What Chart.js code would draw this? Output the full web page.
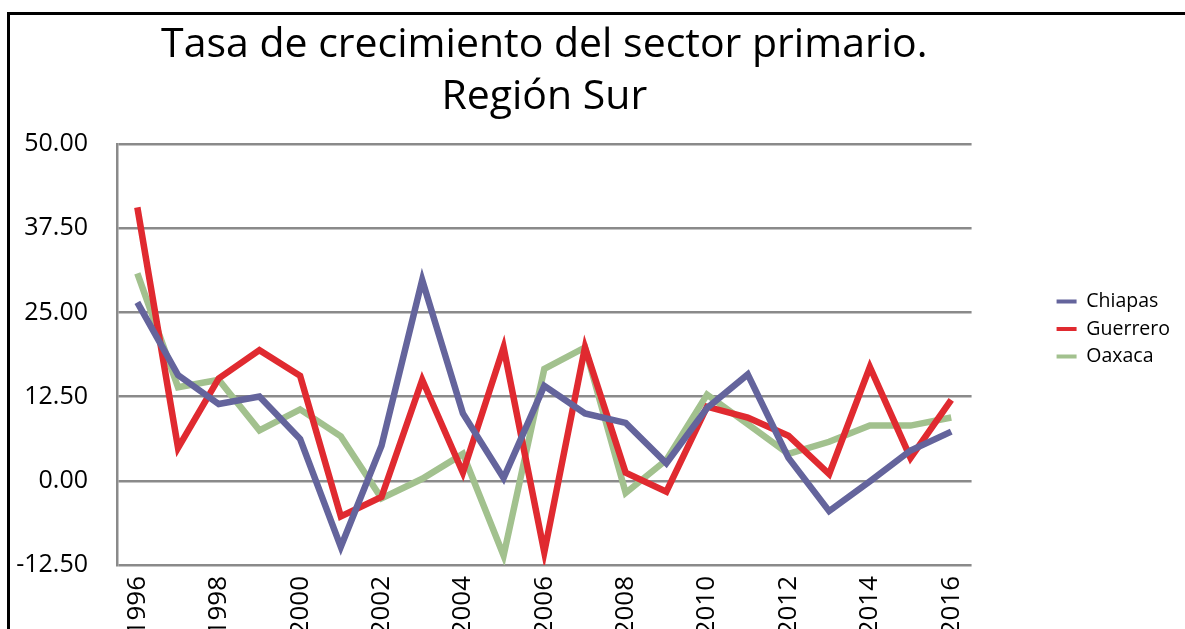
<!DOCTYPE html>
<html lang="es">
<head>
<meta charset="utf-8">
<title>Tasa de crecimiento del sector primario. Región Sur</title>
<script src="https://cdn.jsdelivr.net/npm/chart.js@4/dist/chart.umd.min.js"></script>
<style>
  html, body { margin: 0; padding: 0; background: #fff; overflow: hidden; }
  #wrap { position: absolute; left: 0; top: 0; width: 1185px; height: 658px; }
  .frame { position: absolute; background: #000; z-index: 2; }
  #frameTop { left: 7px; top: 12px; width: 1200px; height: 3px; }
  #frameLeft { left: 7px; top: 12px; width: 3px; height: 700px; }
</style>
</head>
<body>
<div id="wrap"><canvas id="chart"></canvas></div>
<div class="frame" id="frameTop"></div>
<div class="frame" id="frameLeft"></div>
<script>
// Años de la serie
const years = ['1996','1997','1998','1999','2000','2001','2002','2003','2004','2005',
               '2006','2007','2008','2009','2010','2011','2012','2013','2014','2015','2016'];

// Tasa de crecimiento anual (%) por estado
const chiapas  = [26.5, 15.7, 11.4, 12.5, 6.2, -9.8, 5.2, 29.8, 10.0, 0.4,
                  14.1, 10.0, 8.6, 2.6, 10.8, 15.8, 3.4, -4.5, -0.1, 4.5, 7.3];
const guerrero = [40.6, 4.9, 15.2, 19.4, 15.6, -5.3, -2.4, 15.0, 1.2, 19.8,
                  -10.6, 19.8, 1.2, -1.6, 11.0, 9.4, 6.7, 1.0, 16.9, 3.4, 12.0];
const oaxaca   = [30.8, 13.9, 15.0, 7.5, 10.6, 6.6, -2.6, 0.3, 4.0, -11.1,
                  16.6, 19.8, -1.8, 3.1, 12.8, 8.4, 4.0, 5.8, 8.2, 8.2, 9.4];

const seriesNames = ['Chiapas', 'Guerrero', 'Oaxaca'];
const seriesColors = ['#64649c', '#e02a30', '#a2c18e'];

const yMin = -12.5, yMax = 50, yStep = 12.5;
const titleLines = ['Tasa de crecimiento del sector primario.', 'Región Sur'];

Chart.defaults.font.family = "'Open Sans', 'Liberation Sans', sans-serif";
Chart.defaults.color = '#000';

const gridGray = '#8a8a8a';

function makeSet(label, data, color) {
  return {
    label, data,
    borderColor: color,
    backgroundColor: color,
    borderWidth: 6.5,
    borderJoinStyle: 'miter',
    borderCapStyle: 'butt',
    pointRadius: 0,
    pointHoverRadius: 0,
    tension: 0,
    fill: false
  };
}

new Chart(document.getElementById('chart'), {
  type: 'line',
  data: {
    labels: years,
    datasets: [
      makeSet(seriesNames[0], chiapas, seriesColors[0]),
      makeSet(seriesNames[1], guerrero, seriesColors[1]),
      makeSet(seriesNames[2], oaxaca, seriesColors[2])
    ]
  },
  options: {
    responsive: true,
    maintainAspectRatio: false,
    animation: false,
    events: [],
    layout: { padding: { top: 0, left: 0, right: 5, bottom: 0 } },
    plugins: {
      tooltip: { enabled: false },
      title: {
        display: true,
        text: titleLines,
        fullSize: false,
        color: '#000',
        font: { size: 41, weight: 'normal', lineHeight: 1.27 },
        padding: { top: 19, bottom: 20.9 }
      },
      legend: {
        position: 'right',
        maxWidth: 140,
        labels: {
          boxWidth: 20,
          boxHeight: 4,
          padding: 8,
          color: '#000',
          font: { size: 19.5 },
          generateLabels(chart) {
            const items = Chart.defaults.plugins.legend.labels.generateLabels(chart);
            items.forEach(it => { it.lineWidth = 0; });
            return items;
          }
        }
      }
    },
    scales: {
      x: {
        offset: true,
        grid: { display: false, drawTicks: false },
        border: { display: false },
        ticks: {
          autoSkip: false,
          minRotation: 90,
          maxRotation: 90,
          padding: 11,
          font: { size: 26 },
          callback(value, index) { return index % 2 === 0 ? this.getLabelForValue(value) : ''; }
        },
        afterFit(scale) { scale.height = 93; }
      },
      y: {
        min: yMin,
        max: yMax,
        grid: { color: gridGray, lineWidth: 2.5, drawTicks: false },
        border: { display: true, color: gridGray, width: 2.5 },
        ticks: {
          stepSize: yStep,
          padding: 29,
          font: { size: 25 },
          callback: v => v.toFixed(2)
        },
        afterFit(scale) { scale.width = 117; }
      },
      gap: {
        position: 'right',
        display: true,
        grid: { display: false, drawTicks: false },
        border: { display: false },
        ticks: { display: false },
        afterFit(scale) { scale.width = 77; }
      }
    }
  }
});
</script>
</body>
</html>
